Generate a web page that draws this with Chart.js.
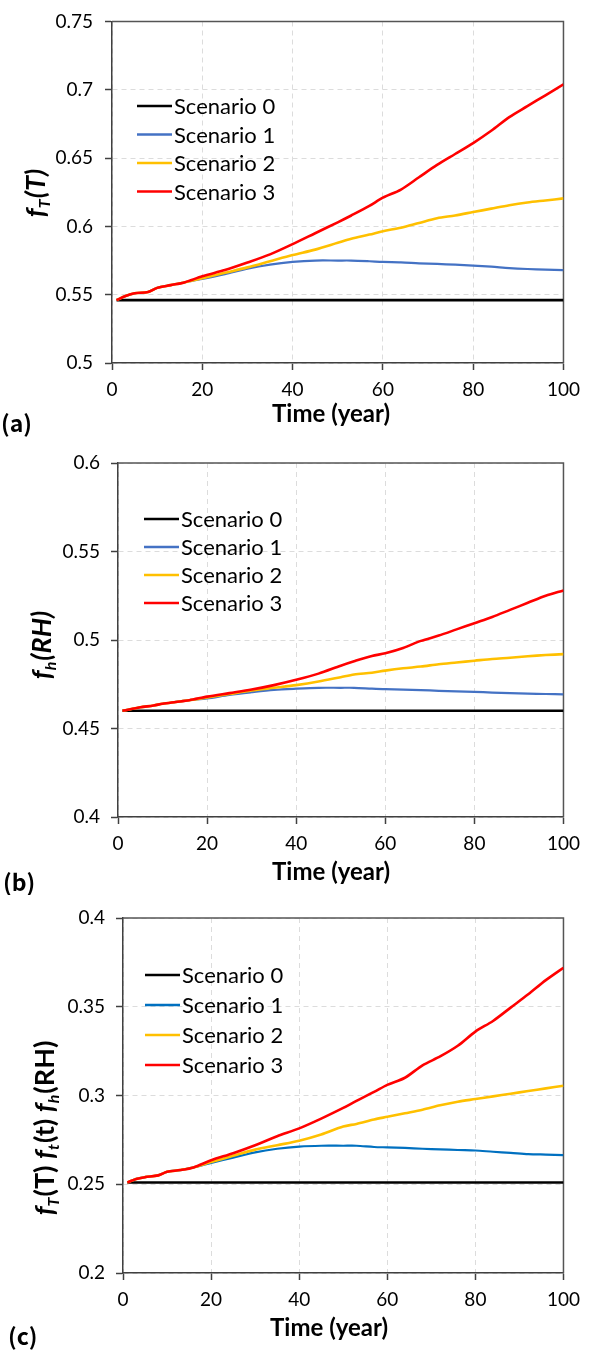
<!DOCTYPE html>
<html>
<head>
<meta charset="utf-8">
<script src="https://cdn.jsdelivr.net/npm/chart.js@4.4.1/dist/chart.umd.min.js"></script>
<style>
  html, body { margin: 0; padding: 0; background: #fff; }
  body { width: 590px; height: 1350px; position: relative; overflow: hidden; }
  canvas { position: absolute; left: 0; }
</style>
</head>
<body>
<canvas id="cA" width="590" height="440" style="top:0px;width:590px;height:440px"></canvas>
<canvas id="cB" width="590" height="455" style="top:440px;width:590px;height:455px"></canvas>
<canvas id="cC" width="590" height="455" style="top:895px;width:590px;height:455px"></canvas>
<script>
// ---------------- DATA ----------------
const years = [1, 3, 5, 8, 10, 13, 16, 20, 25, 30, 35, 40, 45, 50, 53, 57, 60, 64, 68, 72, 76, 80, 84, 88, 92, 96, 100];

const seriesNames = ['Scenario 0', 'Scenario 1', 'Scenario 2', 'Scenario 3'];

// Panel (a): f_T(T)
const a_s0 = [0.546, 0.546, 0.546, 0.546, 0.546, 0.546, 0.546, 0.546, 0.546, 0.546, 0.546, 0.546, 0.546, 0.546, 0.546, 0.546, 0.546, 0.546, 0.546, 0.546, 0.546, 0.546, 0.546, 0.546, 0.546, 0.546, 0.546];
const a_s1 = [0.546, 0.549, 0.551, 0.552, 0.555, 0.557, 0.559, 0.5615, 0.565, 0.569, 0.572, 0.574, 0.575, 0.575, 0.575, 0.5745, 0.574, 0.5737, 0.573, 0.5725, 0.572, 0.5713, 0.5705, 0.5695, 0.5688, 0.5683, 0.568];
const a_s2 = [0.546, 0.549, 0.551, 0.552, 0.555, 0.557, 0.559, 0.562, 0.566, 0.570, 0.5745, 0.579, 0.583, 0.588, 0.591, 0.594, 0.5965, 0.599, 0.6025, 0.606, 0.608, 0.6105, 0.613, 0.6155, 0.6175, 0.619, 0.6205];
const a_s3 = [0.546, 0.549, 0.551, 0.552, 0.555, 0.557, 0.559, 0.5635, 0.568, 0.5735, 0.5795, 0.587, 0.595, 0.603, 0.608, 0.615, 0.621, 0.627, 0.636, 0.645, 0.653, 0.661, 0.670, 0.680, 0.688, 0.696, 0.704];

// Panel (b): f_h(RH)
const b_s0 = [0.460, 0.460, 0.460, 0.460, 0.460, 0.460, 0.460, 0.460, 0.460, 0.460, 0.460, 0.460, 0.460, 0.460, 0.460, 0.460, 0.460, 0.460, 0.460, 0.460, 0.460, 0.460, 0.460, 0.460, 0.460, 0.460, 0.460];
const b_s1 = [0.460, 0.461, 0.462, 0.463, 0.464, 0.465, 0.466, 0.467, 0.469, 0.4705, 0.4718, 0.4725, 0.473, 0.473, 0.473, 0.4725, 0.4722, 0.472, 0.4717, 0.4713, 0.471, 0.4707, 0.4703, 0.470, 0.4697, 0.4695, 0.4693];
const b_s2 = [0.460, 0.461, 0.462, 0.463, 0.464, 0.465, 0.466, 0.4675, 0.4695, 0.4715, 0.473, 0.4745, 0.4765, 0.479, 0.4805, 0.4815, 0.4827, 0.484, 0.485, 0.4863, 0.4873, 0.4883, 0.4893, 0.490, 0.4908, 0.4915, 0.492];
const b_s3 = [0.460, 0.461, 0.462, 0.463, 0.464, 0.465, 0.466, 0.468, 0.470, 0.472, 0.4745, 0.4775, 0.481, 0.4855, 0.488, 0.491, 0.4925, 0.4955, 0.4995, 0.5025, 0.506, 0.5095, 0.513, 0.517, 0.521, 0.525, 0.528];

// Panel (c): f_T(T) f_t(t) f_h(RH)
const c_s0 = [0.251, 0.251, 0.251, 0.251, 0.251, 0.251, 0.251, 0.251, 0.251, 0.251, 0.251, 0.251, 0.251, 0.251, 0.251, 0.251, 0.251, 0.251, 0.251, 0.251, 0.251, 0.251, 0.251, 0.251, 0.251, 0.251, 0.251];
const c_s1 = [0.251, 0.253, 0.254, 0.255, 0.257, 0.258, 0.2595, 0.262, 0.265, 0.268, 0.270, 0.2712, 0.2717, 0.2717, 0.2717, 0.271, 0.2708, 0.2705, 0.270, 0.2697, 0.2693, 0.269, 0.2683, 0.2677, 0.267, 0.2667, 0.2664];
const c_s2 = [0.251, 0.253, 0.254, 0.255, 0.257, 0.258, 0.2595, 0.2625, 0.266, 0.2695, 0.272, 0.2745, 0.278, 0.2825, 0.284, 0.2865, 0.288, 0.290, 0.292, 0.2945, 0.2965, 0.298, 0.2995, 0.301, 0.3025, 0.304, 0.3055];
const c_s3 = [0.251, 0.253, 0.254, 0.255, 0.257, 0.258, 0.2595, 0.2635, 0.2675, 0.272, 0.277, 0.2815, 0.287, 0.293, 0.297, 0.302, 0.306, 0.310, 0.317, 0.322, 0.328, 0.336, 0.342, 0.3495, 0.357, 0.365, 0.372];

// Tick values and labels
const xTickVals = [0, 20, 40, 60, 80, 100];
const xTickLabels = ['0', '20', '40', '60', '80', '100'];
const yTickValsA = [0.5, 0.55, 0.6, 0.65, 0.7, 0.75];
const yTickLabelsA = ['0.5', '0.55', '0.6', '0.65', '0.7', '0.75'];
const yTickValsB = [0.4, 0.45, 0.5, 0.55, 0.6];
const yTickLabelsB = ['0.4', '0.45', '0.5', '0.55', '0.6'];
const yTickValsC = [0.2, 0.25, 0.3, 0.35, 0.4];
const yTickLabelsC = ['0.2', '0.25', '0.3', '0.35', '0.4'];

const xTitle = 'Time (year)';
const panelLabels = ['(a)', '(b)', '(c)'];

// ---------------- STYLE / HELPERS ----------------
Chart.defaults.font.family = 'Lato, "Open Sans", sans-serif';
Chart.defaults.color = '#000';

const pts = (xs, ys) => xs.map((x, i) => ({ x: x, y: ys[i] }));

const framePlugin = {
  id: 'frame',
  beforeDatasetsDraw(chart) {
    const { ctx, chartArea: ca } = chart;
    ctx.save();
    ctx.strokeStyle = '#555';
    ctx.lineWidth = 1.5;
    ctx.beginPath();
    ctx.moveTo(ca.left, ca.top);
    ctx.lineTo(ca.right, ca.top);
    ctx.lineTo(ca.right, ca.bottom);
    ctx.stroke();
    ctx.restore();
  }
};

const annoPlugin = {
  id: 'anno',
  afterDraw(chart, args, o) {
    const ctx = chart.ctx;
    ctx.save();
    // legend inside plot
    const L = o.legend;
    chart.data.datasets.forEach((ds, i) => {
      const y = L.y0 + i * L.dy;
      ctx.strokeStyle = ds.borderColor;
      ctx.lineWidth = 2.5;
      ctx.beginPath();
      ctx.moveTo(L.x, y);
      ctx.lineTo(L.x + L.len, y);
      ctx.stroke();
      ctx.fillStyle = '#000';
      ctx.font = '22px Lato';
      ctx.textBaseline = 'middle';
      ctx.textAlign = 'left';
      ctx.fillText(ds.label, L.x + L.len + 2, y + 1);
    });
    // x title
    ctx.font = 'bold 24px Lato';
    ctx.textAlign = 'center';
    ctx.textBaseline = 'middle';
    ctx.fillStyle = '#000';
    ctx.fillText(o.xTitle.text, o.xTitle.x, o.xTitle.y);
    // panel label
    ctx.font = 'bold 23px "Noto Sans CJK SC", "DejaVu Sans"';
    ctx.textAlign = 'left';
    ctx.fillText(o.panel.text, o.panel.x, o.panel.y);
    // y title with subscripts, rotated
    ctx.translate(o.yTitle.x, o.yTitle.y);
    ctx.rotate(-Math.PI / 2);
    const parts = o.yTitle.parts;
    const fontOf = p => (p.style || 'italic bold') + ' ' + p.size + 'px Lato';
    let total = 0;
    parts.forEach(p => { ctx.font = fontOf(p); total += ctx.measureText(p.t).width + (p.gap || 0); });
    let cx = -total / 2;
    ctx.textAlign = 'left';
    ctx.textBaseline = 'alphabetic';
    parts.forEach(p => {
      ctx.font = fontOf(p);
      ctx.fillText(p.t, cx, (p.dy || 0) + 9);
      cx += ctx.measureText(p.t).width + (p.gap || 0);
    });
    ctx.restore();
  }
};

function makeChart(id, s, yVals, yLabels, lay, anno) {
  const colors = ['#000000', lay.blue, '#FFC000', '#FF0000'];
  const orders = [3, 2, 1, 0];
  const datasets = [s[0], s[1], s[2], s[3]].map((arr, i) => ({
    label: seriesNames[i],
    data: pts(years, arr),
    borderColor: colors[i],
    backgroundColor: colors[i],
    borderWidth: i === 1 ? 2.2 : 2.6,
    pointRadius: 0,
    tension: 0.3,
    fill: false,
    order: orders[i]
  }));
  return new Chart(document.getElementById(id), {
    type: 'line',
    data: { datasets },
    plugins: [framePlugin, annoPlugin],
    options: {
      responsive: false,
      animation: false,
      events: [],
      layout: { padding: { top: lay.top, right: lay.right, left: 0, bottom: 0 } },
      plugins: {
        legend: { display: false },
        tooltip: { enabled: false },
        anno: anno
      },
      scales: {
        x: {
          type: 'linear',
          min: 0, max: 100,
          afterBuildTicks: sc => { sc.ticks = xTickVals.map(v => ({ value: v })); },
          afterFit: sc => { sc.height = lay.xH; },
          ticks: {
            callback: (v, i) => xTickLabels[i],
            font: { size: 19, lineHeight: 1 },
            color: '#000',
            padding: 10,
            maxRotation: 0
          },
          grid: {
            color: '#dcdcdc',
            lineWidth: 1,
            tickColor: '#404040',
            tickLength: 7,
            tickWidth: 1.5
          },
          border: { color: '#404040', width: 1.5, dash: [5, 4] }
        },
        y: {
          type: 'linear',
          min: yVals[0], max: yVals[yVals.length - 1],
          afterBuildTicks: sc => { sc.ticks = yVals.map(v => ({ value: v })); },
          afterFit: sc => { sc.width = lay.left; },
          ticks: {
            callback: (v, i) => yLabels[i],
            font: { size: 19, lineHeight: 1 },
            color: '#000',
            padding: lay.yPad
          },
          grid: {
            color: '#dcdcdc',
            lineWidth: 1,
            tickColor: '#404040',
            tickLength: 7,
            tickWidth: 1.5
          },
          border: { color: '#404040', width: 1.5, dash: [5, 4] }
        }
      }
    }
  });
}

// Panel (a)
makeChart('cA', [a_s0, a_s1, a_s2, a_s3], yTickValsA, yTickLabelsA,
  { top: 9, right: 16, left: 112, xH: 77, yPad: 12, blue: '#4472C4' },
  {
    legend: { x: 137, y0: 106, dy: 28.5, len: 35 },
    xTitle: { text: xTitle, x: 331, y: 414 },
    panel: { text: panelLabels[0], x: 1, y: 423 },
    yTitle: { x: 36, y: 193, parts: [
      { t: 'f', size: 27 }, { t: 'T', size: 16, dy: 5, gap: 1 }, { t: '(T)', size: 27 }
    ] }
  });

// Panel (b)
makeChart('cB', [b_s0, b_s1, b_s2, b_s3], yTickValsB, yTickLabelsB,
  { top: 23, right: 16, left: 118, xH: 78, yPad: 11, blue: '#4472C4' },
  {
    legend: { x: 144, y0: 79, dy: 28, len: 35 },
    xTitle: { text: xTitle, x: 331, y: 432 },
    panel: { text: panelLabels[1], x: 3, y: 442 },
    yTitle: { x: 42, y: 205, parts: [
      { t: 'f', size: 27 }, { t: 'h', size: 16, dy: 5, gap: 1 }, { t: '(RH)', size: 27 }
    ] }
  });

// Panel (c)
makeChart('cC', [c_s0, c_s1, c_s2, c_s3], yTickValsC, yTickLabelsC,
  { top: 23, right: 25, left: 123, xH: 77, yPad: 11, blue: '#0070C0' },
  {
    legend: { x: 145, y0: 80, dy: 30, len: 35 },
    xTitle: { text: xTitle, x: 329, y: 433 },
    panel: { text: panelLabels[2], x: 8, y: 441 },
    yTitle: { x: 45, y: 233, parts: [
      { t: 'f', size: 27 }, { t: 'T', size: 16, dy: 5, gap: 1 }, { t: '(T) ', size: 27, style: 'bold' },
      { t: 'f', size: 27 }, { t: 't', size: 16, dy: 5, gap: 1 }, { t: '(t) ', size: 27, style: 'bold' },
      { t: 'f', size: 27 }, { t: 'h', size: 16, dy: 5, gap: 1 }, { t: '(RH)', size: 27, style: 'bold' }
    ] }
  });
</script>
</body>
</html>
